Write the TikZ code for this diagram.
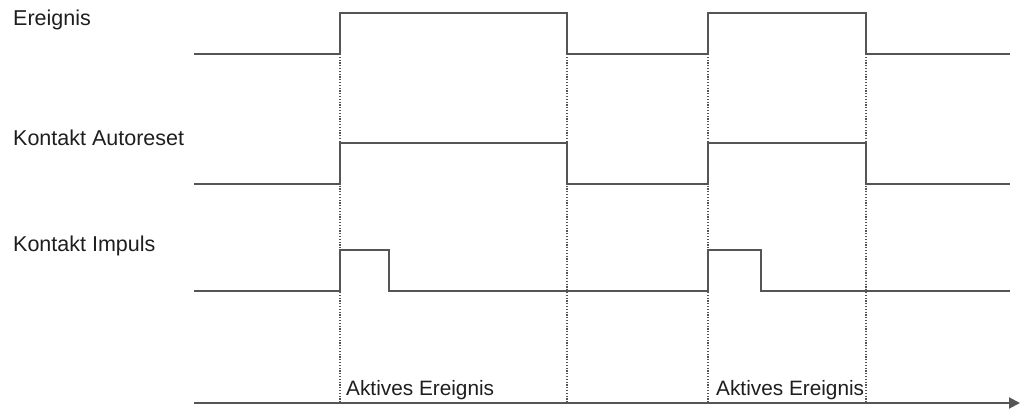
\documentclass[tikz,border=0pt]{standalone}
\usepackage{fontspec}
\setmainfont{Liberation Sans}
\usetikzlibrary{arrows.meta}
\definecolor{sigc}{HTML}{555555}
\definecolor{guidec}{HTML}{555555}
\definecolor{txtc}{HTML}{1E1E1E}
\begin{document}
\begin{tikzpicture}[x=1pt,y=-1pt,
  sig/.style={line width=2pt, draw=sigc, line join=miter},
  guide/.style={dash pattern=on 1.2pt off 1.6pt, line width=1.1pt, draw=guidec},
  axisline/.style={line width=2pt, draw=sigc, -{Triangle[length=11pt,width=11pt]}},
  lbl/.style={anchor=base west, inner sep=0pt, text=txtc, font=\fontsize{21.5}{25}\selectfont},
  evlbl/.style={lbl, font=\fontsize{20.8}{25}\selectfont}]
\useasboundingbox (0,0) rectangle (1027,409);
% time marks
\coordinate (a1) at (340,54);
\coordinate (b1) at (567,54);
\coordinate (a2) at (708,54);
\coordinate (b2) at (866,54);
\coordinate (a1e) at (340,403);
\coordinate (b1e) at (567,403);
\coordinate (a2e) at (708,403);
\coordinate (b2e) at (866,403);
% guides
\draw[guide] (a1) -- (a1e);
\draw[guide] (b1) -- (b1e);
\draw[guide] (a2) -- (a2e);
\draw[guide] (b2) -- (b2e);
% signals
\draw[sig] (194,54) -- (340,54) -- (340,13) -- (567,13) -- (567,54) -- (708,54) -- (708,13) -- (866,13) -- (866,54) -- (1010,54);
\draw[sig] (194,184) -- (340,184) -- (340,143) -- (567,143) -- (567,184) -- (708,184) -- (708,143) -- (866,143) -- (866,184) -- (1010,184);
\draw[sig] (194,291) -- (340,291) -- (340,250) -- (389,250) -- (389,291) -- (708,291) -- (708,250) -- (761,250) -- (761,291) -- (1010,291);
% axis
\coordinate (ax0) at (194,403);
\coordinate (ax1) at (1020,403);
\draw[axisline] (ax0) -- (ax1);
% labels
\node[lbl] (l1) at (13,25.5) {Ereignis};
\node[lbl] (l2) at (13,145.5) {Kontakt Autoreset};
\node[lbl] (l3) at (13,251.5) {Kontakt Impuls};
\node[evlbl] (l4) at (346,395) {Aktives Ereignis};
\node[evlbl] (l5) at (716,395) {Aktives Ereignis};
\end{tikzpicture}
\end{document}
